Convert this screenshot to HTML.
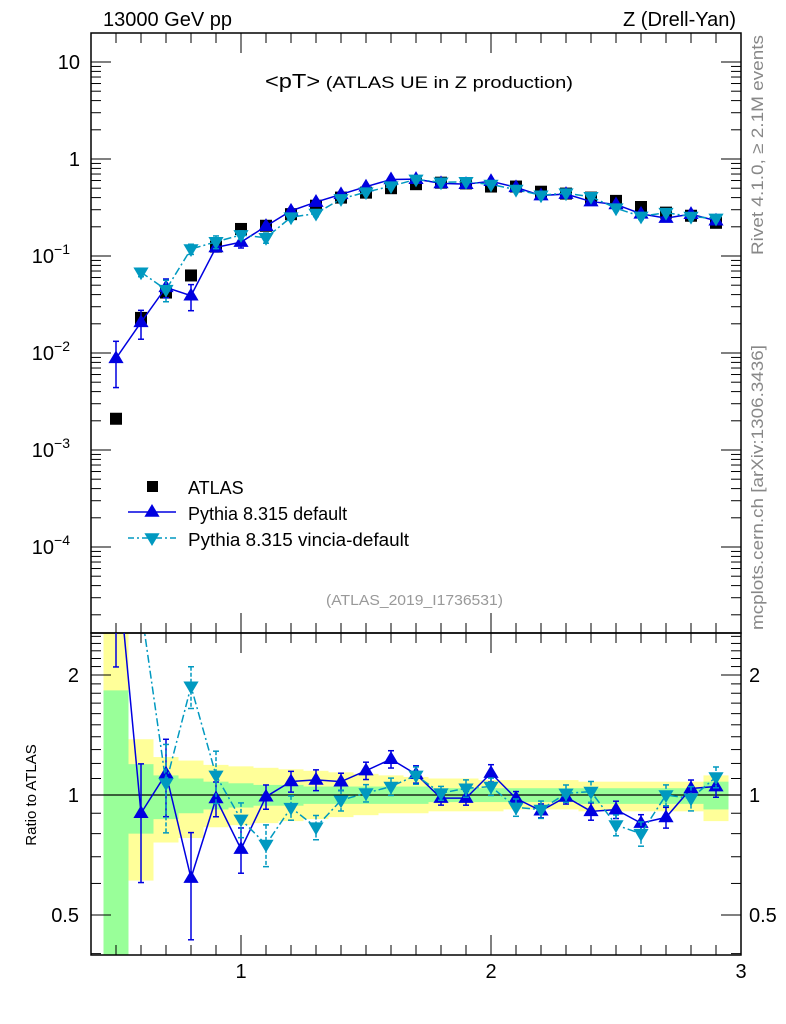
<!DOCTYPE html>
<html><head><meta charset="utf-8"><style>
body{margin:0;background:#fff}
svg{display:block;font-family:"Liberation Sans",sans-serif}
</style></head><body>
<svg id="c" width="786" height="1024" xmlns="http://www.w3.org/2000/svg"></svg>
<script>
const xs=[0.5,0.6,0.7,0.8,0.9,1.0,1.1,1.2,1.3,1.4,1.5,1.6,1.7,1.8,1.9,2.0,2.1,2.2,2.3,2.4,2.5,2.6,2.7,2.8,2.9];
const atlas=[0.0021,0.023,0.042,0.063,0.125,0.19,0.205,0.27,0.33,0.40,0.45,0.50,0.55,0.57,0.56,0.52,0.52,0.46,0.44,0.40,0.37,0.32,0.28,0.26,0.22];
const pyDef=[0.0088,0.0207,0.0475,0.039,0.1225,0.139,0.203,0.292,0.36,0.432,0.518,0.615,0.62,0.56,0.55,0.59,0.51,0.42,0.435,0.364,0.34,0.272,0.246,0.27,0.231];
const pyDefErr=[0.5,0.33,0.22,0.3,0.1,0.13,0.07,0.06,0.06,0.05,0.05,0.05,0.05,0.04,0.04,0.05,0.04,0.04,0.04,0.05,0.05,0.05,0.06,0.05,0.06];
const pyVin=[null,0.068,0.045,0.118,0.14,0.165,0.154,0.251,0.274,0.388,0.455,0.525,0.616,0.576,0.582,0.546,0.484,0.423,0.444,0.408,0.311,0.256,0.28,0.255,0.244];
const pyVinErr=[0,0.1,0.25,0.12,0.15,0.1,0.12,0.07,0.07,0.06,0.05,0.05,0.05,0.04,0.05,0.05,0.05,0.05,0.05,0.06,0.06,0.07,0.06,0.07,0.06];
const yellowHi=[3,1.38,1.245,1.22,1.19,1.18,1.17,1.16,1.15,1.14,1.13,1.12,1.11,1.10,1.10,1.09,1.09,1.09,1.09,1.08,1.08,1.08,1.08,1.08,1.12];
const yellowLo=[0.2,0.61,0.76,0.78,0.83,0.84,0.85,0.86,0.87,0.88,0.89,0.90,0.90,0.91,0.91,0.91,0.92,0.92,0.92,0.91,0.91,0.91,0.91,0.91,0.86];
const greenHi=[1.83,1.195,1.12,1.10,1.08,1.07,1.06,1.06,1.05,1.05,1.05,1.05,1.05,1.04,1.04,1.04,1.04,1.04,1.04,1.04,1.04,1.04,1.04,1.04,1.08];
const greenLo=[0.2,0.80,0.87,0.90,0.92,0.93,0.94,0.94,0.95,0.95,0.95,0.95,0.95,0.96,0.96,0.96,0.96,0.96,0.96,0.95,0.95,0.95,0.95,0.95,0.92];
const xTicks=[1,2,3];
const mainTicks=[["10",1],["1",0],["10",-1,"−1"],["10",-2,"−2"],["10",-3,"−3"],["10",-4,"−4"]];
const ratioTicks=[["0.5",0.5],["1",1],["2",2]];

const NS="http://www.w3.org/2000/svg";
const svg=document.getElementById('c');
function el(tag,at,parent){const e=document.createElementNS(NS,tag);for(const k in at)e.setAttribute(k,at[k]);(parent||svg).appendChild(e);return e;}
const L=91,R=741,T=33,M=633,B=955;
const X=v=>L+(v-0.4)*250;
const Y=v=>62-(Math.log10(v)-1)*97;
const RYr=v=>795-Math.log2(v)*120;

const defs=el('defs',{});
const cp=el('clipPath',{id:'rc'},defs);el('rect',{x:L,y:M,width:R-L,height:B-M},cp);
const cm=el('clipPath',{id:'mc'},defs);el('rect',{x:L,y:T,width:R-L,height:M-T},cm);

const bands=el('g',{'clip-path':'url(#rc)'});


xs.forEach((x,i)=>{
  const x0=X(x-0.05),w=250*0.1;
  const y1=el('rect',{x:x0,y:RYr(yellowHi[i]),width:w,height:RYr(yellowLo[i])-RYr(yellowHi[i]),fill:'#ffff99'},bands);
  
  
  const g1=el('rect',{x:x0,y:RYr(greenHi[i]),width:w,height:RYr(greenLo[i])-RYr(greenHi[i]),fill:'#99ff99'},bands);
  
  
});
el('line',{x1:L,x2:R,y1:795,y2:795,stroke:'#000','stroke-width':1.2});

el('rect',{x:L,y:T,width:R-L,height:M-T,fill:'none',stroke:'#000','stroke-width':1.5});
el('rect',{x:L,y:M,width:R-L,height:B-M,fill:'none',stroke:'#000','stroke-width':1.5});

const tg=el('g',{stroke:'#000','stroke-width':1});
for(let d=-5;d<=1;d++){for(let m=1;m<10;m++){const v=m*Math.pow(10,d);const y=Y(v);if(y<T||y>M)continue;const len=m==1?20:10;
 el('line',{x1:L,x2:L+len,y1:y,y2:y},tg);el('line',{x1:R-len,x2:R,y1:y,y2:y},tg);}}
for(let v=0.4;v<=2.6;v+=0.1){const y=RYr(v);if(y<M||y>B)continue;const maj=[0.5,1,2].some(a=>Math.abs(a-v)<1e-6);const len=maj?20:10;
 el('line',{x1:L,x2:L+len,y1:y,y2:y},tg);el('line',{x1:R-len,x2:R,y1:y,y2:y},tg);}
for(let v=0.4;v<=3.0001;v+=0.1){const x=X(v);const maj=Math.abs(v-Math.round(v))<1e-6;const len=maj?20:10;
 el('line',{x1:x,x2:x,y1:M,y2:M-len},tg);el('line',{x1:x,x2:x,y1:M,y2:M+len},tg);el('line',{x1:x,x2:x,y1:B,y2:B-len},tg);el('line',{x1:x,x2:x,y1:T,y2:T+len},tg);}

mainTicks.forEach(t=>{const y=Y(Math.pow(10,t[1]));const tx=el('text',{x:t[2]?70:80,y:y+7,'font-size':20,'text-anchor':'end'});
 
 
 tx.textContent=t[0];
 if(t[2]){const s=el('tspan',{'font-size':14,dy:-9},tx);s.textContent=t[2];}});
ratioTicks.forEach(t=>{const y=RYr(t[1]);
 const a=el('text',{x:79,y:y+7,'font-size':20,'text-anchor':'end'});a.textContent=t[0];
 
 
 const b=el('text',{x:749,y:y+7,'font-size':20});b.textContent=t[0];
 
 });
xTicks.forEach(v=>{const a=el('text',{x:X(v),y:978,'font-size':20,'text-anchor':'middle'});a.textContent=v;
 
 });

function txt(s,at,name){const t=el('text',at);t.textContent=s;return t;}
txt('13000 GeV pp',{x:103,y:26,'font-size':20},'beam-label');
txt('Z (Drell-Yan)',{x:736,y:26,'font-size':20,'text-anchor':'end'},'process-label');
const tt=txt('<pT>',{x:265,y:88,'font-size':20,textLength:308,lengthAdjust:'spacingAndGlyphs'},'plot-title');
const ts=el('tspan',{'font-size':17},tt);ts.textContent=' (ATLAS UE in Z production)';
txt('(ATLAS_2019_I1736531)',{x:326,y:605,'font-size':15,fill:'#999',textLength:177,lengthAdjust:'spacingAndGlyphs'},'analysis-id');
txt('Rivet 4.1.0, ≥ 2.1M events',{x:0,y:0,'font-size':17,fill:'#888',textLength:220,lengthAdjust:'spacingAndGlyphs',transform:'translate(763,255) rotate(-90)'},'rivet-label');
txt('mcplots.cern.ch [arXiv:1306.3436]',{x:0,y:0,'font-size':17,fill:'#888',textLength:285,lengthAdjust:'spacingAndGlyphs',transform:'translate(763,630) rotate(-90)'},'mcplots-label');
txt('Ratio to ATLAS',{x:0,y:0,'font-size':15,'text-anchor':'middle',transform:'translate(36,795) rotate(-90)'},'ratio-y-title');

function tri(g,x,y,up,color){const s=8;const p=up?`${x},${y-s} ${x-s*0.95},${y+s*0.6} ${x+s*0.95},${y+s*0.6}`:`${x},${y+s} ${x-s*0.95},${y-s*0.6} ${x+s*0.95},${y-s*0.6}`;
 return el('polygon',{points:p,fill:color},g);}
function errbar(g,x,y1,y2,color,dash){el('line',{x1:x,x2:x,y1:y1,y2:y2,stroke:color,'stroke-width':1.5,'stroke-dasharray':dash||'none'},g);
 el('line',{x1:x-3,x2:x+3,y1:y1,y2:y1,stroke:color,'stroke-width':1.5},g);el('line',{x1:x-3,x2:x+3,y1:y2,y2:y2,stroke:color,'stroke-width':1.5},g);}

function series(vals,errs,color,up,dash,name,ratio){
 const g=el('g',{'clip-path':ratio?'url(#rc)':'url(#mc)'});
 
 
 const pts=[];
 xs.forEach((x,i)=>{if(vals[i]==null)return;const v=ratio?vals[i]/atlas[i]:vals[i];pts.push([X(x),ratio?RYr(v):Y(v),v,errs[i]]);});
 el('polyline',{points:pts.map(p=>p[0]+','+p[1]).join(' '),fill:'none',stroke:color,'stroke-width':1.5,'stroke-dasharray':dash||'none'},g);
 pts.forEach(p=>{const f=ratio?RYr:Y;errbar(g,p[0],f(p[2]*(1+p[3])),f(p[2]*(1-p[3])),color,dash?'4,2':null);
  const m=tri(g,p[0],p[1],up,color);
  
  });
}
const ag=el('g',{});


xs.forEach((x,i)=>{const r=el('rect',{x:X(x)-6,y:Y(atlas[i])-6,width:12,height:12,fill:'#000'},ag);
 
 });
series(pyDef,pyDefErr,'#0000e0',true,null,'pythia-default',false);
series(pyVin,pyVinErr,'#0099c0',false,'8,3,2,3','pythia-vincia',false);
series(pyDef,pyDefErr,'#0000e0',true,null,'pythia-default-ratio',true);
series(pyVin,pyVinErr,'#0099c0',false,'8,3,2,3','pythia-vincia-ratio',true);

const lg=el('g',{});


el('rect',{x:147,y:481,width:11,height:11,fill:'#000'},lg);
txt('ATLAS',{x:188,y:494,'font-size':18},'legend-atlas');
el('line',{x1:128,x2:176,y1:512,y2:512,stroke:'#0000e0','stroke-width':1.5},lg);
tri(lg,152,512,true,'#0000e0');
txt('Pythia 8.315 default',{x:188,y:520,'font-size':18},'legend-pythia-default');
el('line',{x1:128,x2:176,y1:538,y2:538,stroke:'#0099c0','stroke-width':1.5,'stroke-dasharray':'6,3,2,3'},lg);
tri(lg,152,538,false,'#0099c0');
txt('Pythia 8.315 vincia-default',{x:188,y:546,'font-size':18,textLength:221,lengthAdjust:'spacingAndGlyphs'},'legend-pythia-vincia');
</script>
</body></html>
